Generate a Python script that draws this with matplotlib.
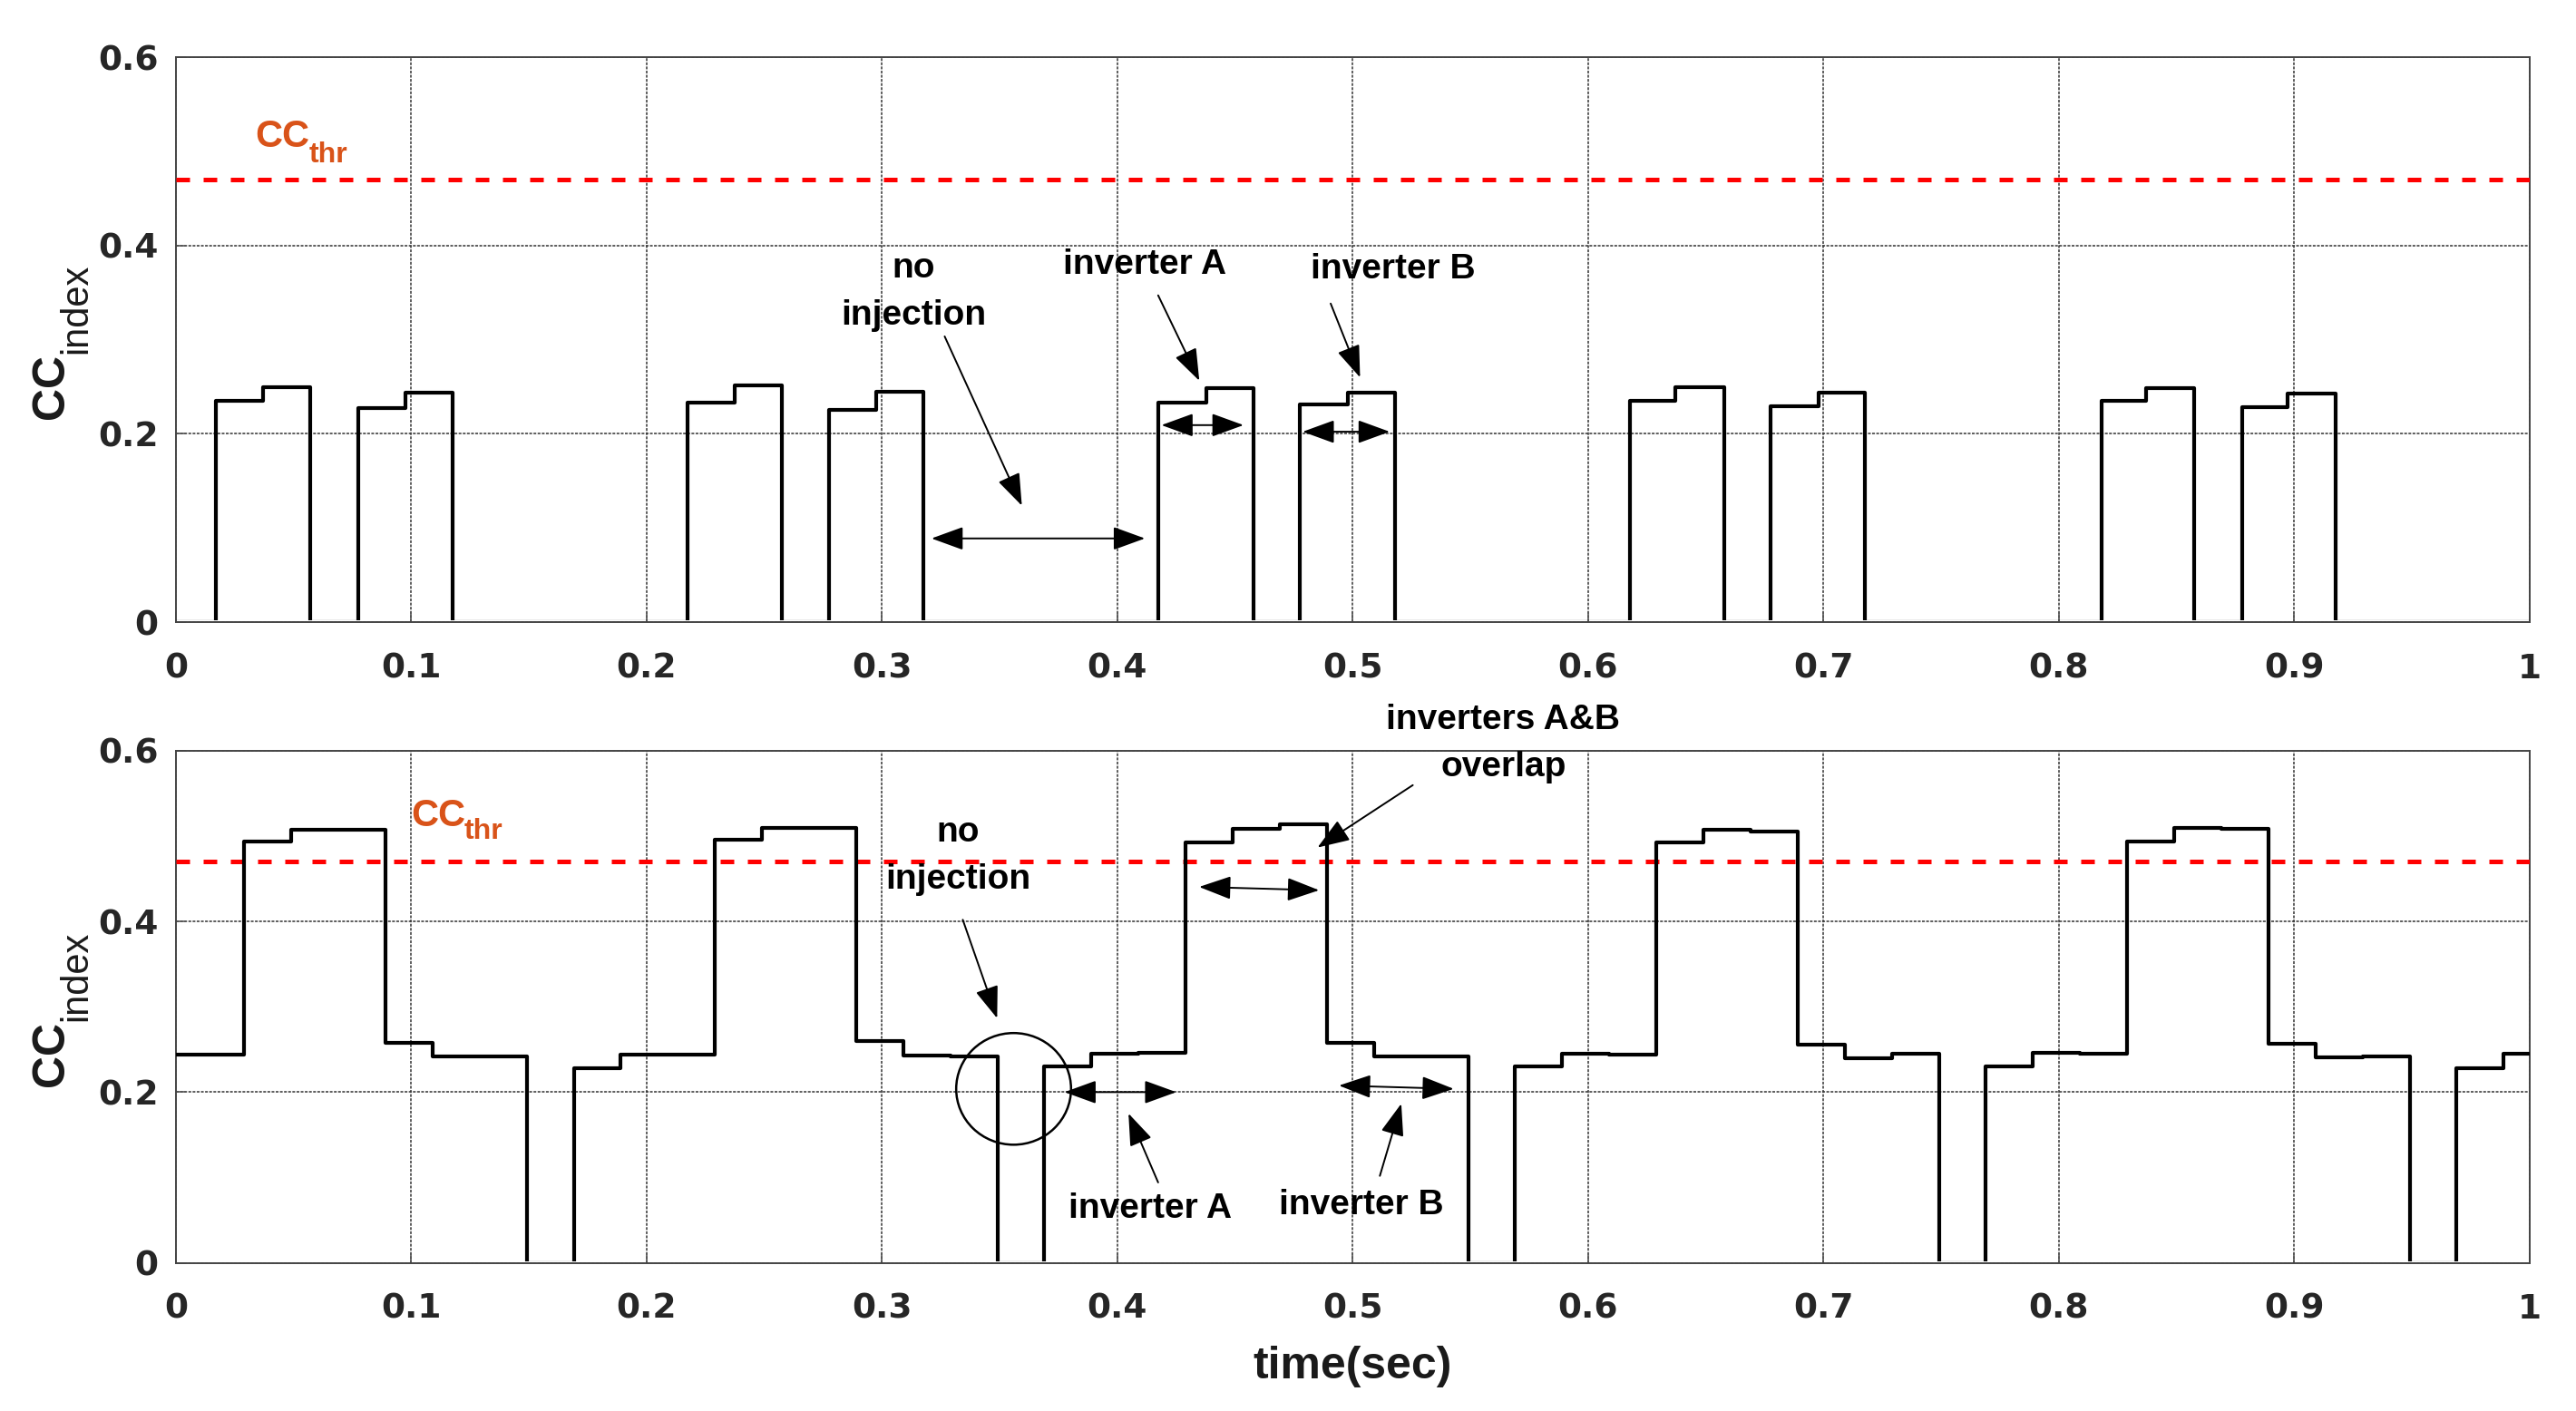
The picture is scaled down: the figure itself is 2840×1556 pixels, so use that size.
import matplotlib
matplotlib.use('Agg')
import matplotlib.pyplot as plt
from matplotlib.patches import Ellipse, Rectangle

# ---------------- data ----------------
xticks = [0, 0.1, 0.2, 0.3, 0.4, 0.5, 0.6, 0.7, 0.8, 0.9, 1.0]
xtick_labels = ['0', '0.1', '0.2', '0.3', '0.4', '0.5', '0.6', '0.7', '0.8', '0.9', '1']
yticks = [0, 0.2, 0.4, 0.6]
ytick_labels = ['0', '0.2', '0.4', '0.6']
cc_thr = 0.47

# top panel: pulses (rise time, step time, fall time, first level, second level)
top_rise = [0.017, 0.0775, 0.2175, 0.2775, 0.4175, 0.4776, 0.6176, 0.6776, 0.818, 0.878]
top_step = [0.037, 0.0975, 0.2375, 0.2975, 0.4378, 0.4979, 0.637, 0.698, 0.837, 0.897]
top_fall = [0.057, 0.1175, 0.2575, 0.3175, 0.4577, 0.518, 0.658, 0.7174, 0.8576, 0.9177]
top_lvl1 = [0.235, 0.227, 0.233, 0.2255, 0.233, 0.2313, 0.235, 0.229, 0.235, 0.228]
top_lvl2 = [0.250, 0.244, 0.251, 0.2448, 0.2484, 0.2433, 0.250, 0.244, 0.249, 0.2425]

# bottom panel: step start times and values
bot_t = [0, 0.029, 0.049, 0.069, 0.089, 0.109, 0.129, 0.149, 0.169, 0.189,
         0.209, 0.229, 0.249, 0.269, 0.289, 0.309, 0.329, 0.349, 0.369, 0.389,
         0.409, 0.429, 0.449, 0.469, 0.489, 0.509, 0.529, 0.549, 0.569, 0.589,
         0.609, 0.629, 0.649, 0.669, 0.689, 0.709, 0.729, 0.749, 0.769, 0.789,
         0.809, 0.829, 0.849, 0.869, 0.889, 0.909, 0.929, 0.949, 0.969, 0.989]
bot_v = [0.244, 0.494, 0.507, 0.507, 0.258, 0.242, 0.242, 0.0, 0.228, 0.244,
         0.244, 0.496, 0.510, 0.509, 0.2595, 0.2424, 0.242, 0.0, 0.230, 0.245,
         0.246, 0.492, 0.508, 0.514, 0.258, 0.242, 0.242, 0.0, 0.230, 0.245,
         0.244, 0.492, 0.507, 0.505, 0.256, 0.240, 0.245, 0.0, 0.230, 0.246,
         0.245, 0.494, 0.509, 0.508, 0.257, 0.241, 0.242, 0.0, 0.228, 0.245]

# ---------------- style ----------------
TICK_FONT = dict(family='DejaVu Sans', weight='bold', size=13.5)
ANN_FONT = dict(family='Liberation Sans', weight='bold', size=14)
THR_COLOR = '#D95319'
W, H = 2840, 1556

fig = plt.figure(figsize=(14.2, 7.78), dpi=200)
ax1 = fig.add_axes([0.0683, 0.559, 0.9137, 0.4005])
ax2 = fig.add_axes([0.0683, 0.105, 0.9137, 0.363])


def style_axes(ax):
    ax.set_xlim(0, 1)
    ax.set_ylim(0, 0.6)
    ax.set_xticks(xticks)
    ax.set_xticklabels(xtick_labels, fontdict=TICK_FONT, color='#262626')
    ax.set_yticks(yticks)
    ax.set_yticklabels(ytick_labels, fontdict=TICK_FONT, color='#262626')
    ax.tick_params(direction='in', length=4, width=0.6, color='#555555')
    ax.tick_params(axis='x', pad=12)
    ax.tick_params(axis='y', pad=7)
    ax.grid(True, color='#333333', lw=0.55, ls=(0, (2, 1)))
    for s in ax.spines.values():
        s.set_color('#444444')
        s.set_linewidth(0.7)
    ax.axhline(cc_thr, color='#FF0000', lw=1.8, ls=(0, (3, 3)), zorder=3)


def ylabel(py_cc, py_idx):
    # "CC" in bold with the "index" subscript, rotated like a y-label
    fig.text(70 / W, 1 - py_cc / H, 'CC', rotation=90, rotation_mode='anchor',
             ha='left', va='baseline', family='Liberation Sans', weight='bold',
             size=18, color='#1a1a1a')
    fig.text(95 / W, 1 - py_idx / H, 'index', rotation=90, rotation_mode='anchor',
             ha='left', va='baseline', family='Liberation Sans', weight='normal',
             size=15, color='#1a1a1a')


def thr_label(ax, x_cc, y_cc, x_sub, y_sub):
    ax.text(x_cc, y_cc, 'CC', color=THR_COLOR, family='Liberation Sans',
            weight='bold', size=15, ha='left', va='baseline')
    ax.text(x_sub, y_sub, 'thr', color=THR_COLOR, family='Liberation Sans',
            weight='bold', size=11.5, ha='left', va='baseline')


def arrow(ax, tail, tip, double=False):
    style = '<|-|>' if double else '-|>'
    ax.annotate('', xy=tip, xytext=tail, xycoords='data', textcoords='data',
                annotation_clip=False,
                arrowprops=dict(arrowstyle=style + ',head_length=0.55,head_width=0.2',
                                mutation_scale=20, lw=0.7, color='black',
                                shrinkA=0, shrinkB=0))


for ax in (ax1, ax2):
    style_axes(ax)

# top trace
t_top = [0.0]
v_top = [0.0]
for r, s, f, l1, l2 in zip(top_rise, top_step, top_fall, top_lvl1, top_lvl2):
    t_top += [r, s, f]
    v_top += [l1, l2, 0.0]
t_top.append(1.0)
v_top.append(0.0)
ln1, = ax1.step(t_top, v_top, where='post', color='black', lw=1.5, zorder=4)
ln1.set_clip_path(Rectangle((0, 0.0034), 1, 1, transform=ax1.transAxes))

# bottom trace
ln2, = ax2.step(bot_t + [1.0], bot_v + [bot_v[-1]], where='post', color='black',
                lw=1.5, zorder=4)
ln2.set_clip_path(Rectangle((0, 0.0037), 1, 1, transform=ax2.transAxes))

# y labels
ylabel(462, 390)
ylabel(462 + 736, 390 + 736)

# threshold labels
thr_label(ax1, 0.0335, 0.505, 0.0565, 0.488)
thr_label(ax2, 0.0998, 0.512, 0.1225, 0.497)

# top annotations
ax1.text(0.3133, 0.351, 'no\ninjection', ha='center', va='center', linespacing=1.57, **ANN_FONT)
arrow(ax1, (0.3266, 0.3035), (0.3594, 0.1238))
arrow(ax1, (0.321, 0.089), (0.4117, 0.089), double=True)
ax1.text(0.4117, 0.380, 'inverter A', ha='center', va='center', **ANN_FONT)
arrow(ax1, (0.4173, 0.3471), (0.4348, 0.2564))
arrow(ax1, (0.4187, 0.2093), (0.4536, 0.2093), double=True)
ax1.text(0.5171, 0.375, 'inverter B', ha='center', va='center', **ANN_FONT)
arrow(ax1, (0.4906, 0.3384), (0.5031, 0.2599))
arrow(ax1, (0.4787, 0.2023), (0.5157, 0.2023), double=True)

# bottom annotations
ax2.text(0.5639, 0.608, 'inverters A&B\noverlap', ha='center', va='center',
         linespacing=1.57, clip_on=False, **ANN_FONT)
arrow(ax2, (0.5255, 0.5596), (0.485, 0.4865))
ax2.text(0.3322, 0.477, 'no\ninjection', ha='center', va='center', linespacing=1.57, **ANN_FONT)
arrow(ax2, (0.3343, 0.4019), (0.3489, 0.2865))
ax2.add_patch(Ellipse((0.3559, 0.2038), width=0.0488, height=0.1308, fill=False,
                      lw=0.9, color='black', zorder=5))
arrow(ax2, (0.3775, 0.2), (0.425, 0.2), double=True)
arrow(ax2, (0.4347, 0.4404), (0.4857, 0.4365), double=True)
arrow(ax2, (0.4941, 0.2077), (0.5429, 0.2038), double=True)
ax2.text(0.4138, 0.0635, 'inverter A', ha='center', va='center', **ANN_FONT)
arrow(ax2, (0.4173, 0.0942), (0.4047, 0.175))
ax2.text(0.5038, 0.0673, 'inverter B', ha='center', va='center', **ANN_FONT)
arrow(ax2, (0.5115, 0.1019), (0.5206, 0.1865))

ax2.set_xlabel('time(sec)', family='Liberation Sans', weight='bold', size=18,
               color='#1a1a1a', labelpad=8)

fig.savefig('out.png', dpi=200, facecolor='white')
